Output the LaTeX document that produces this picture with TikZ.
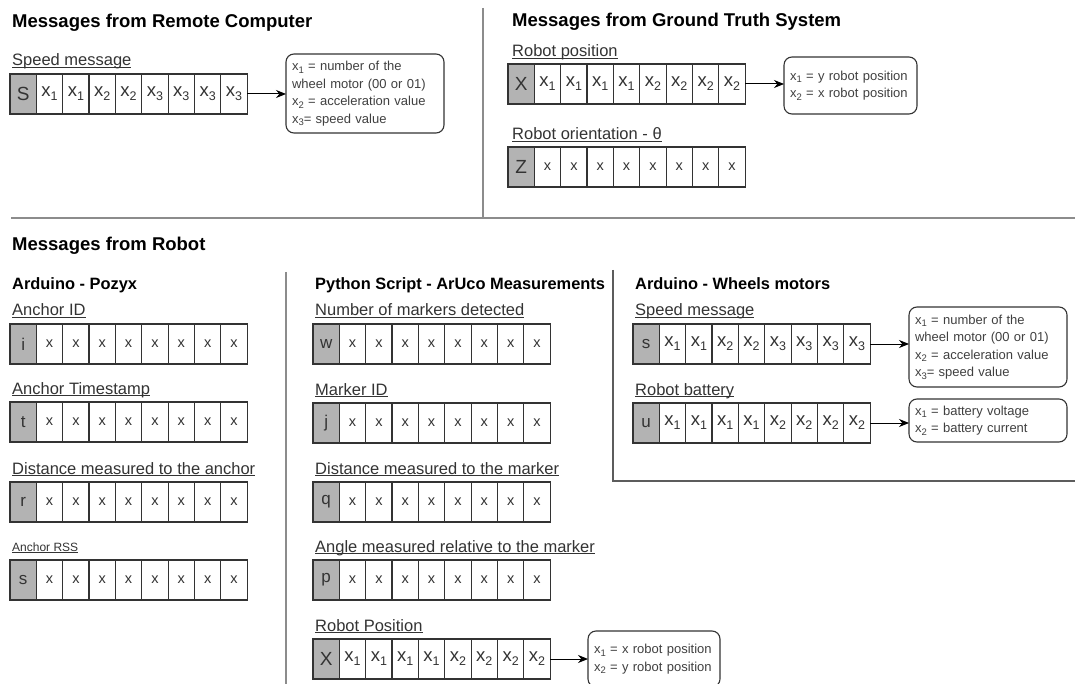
\documentclass[tikz,border=0pt]{standalone}
\usepackage{fontspec}
\setmainfont{Liberation Sans}
\usetikzlibrary{arrows.meta}

\definecolor{ink}{HTML}{333333}
\definecolor{headgray}{HTML}{B3B3B3}
\definecolor{rulegray}{HTML}{8C8C8C}
\definecolor{notetext}{HTML}{404040}

% x with a numeric subscript, for cells and for notes
\newcommand\sx[1]{{\fontsize{18.5}{18.5}\selectfont x\raisebox{-4pt}{\fontsize{12.5}{12.5}\selectfont #1}}}
\newcommand\nx[1]{x\raisebox{-2.8pt}{\fontsize{9.5}{9.5}\selectfont #1}}
% plain x payload byte
\newcommand\px{{\fontsize{14.5}{14.5}\selectfont x}}
% large capital header letter
\newcommand\hd[1]{{\fontsize{19}{19}\selectfont #1}}
% underline at a fixed depth below the baseline
\newcommand\ulabel[1]{{\setbox0\hbox{#1}\rlap{\rule[-2.3pt]{\wd0}{0.9pt}}\box0}}
% one unbreakable note line
\newcommand\nl[1]{\mbox{#1}}

% one message frame: header cell followed by eight payload cells
\newcommand\msgrow[4]{%
  \foreach \c [count=\i from 0] in {#4} {%
    \ifnum\i=0
      \node[headcell] (#1-\i) at ({#2+\i*26.35},#3) {\c};
    \else
      \node[cell] (#1-\i) at ({#2+\i*26.35},#3) {\c};
    \fi
  }%
}

\tikzset{
  cell/.style={draw=ink, line width=1.2pt, fill=white, minimum width=26.35pt,
    minimum height=40pt, inner sep=0pt, outer sep=0pt, anchor=north west,
    text=ink, font=\fontsize{17}{17}\selectfont},
  headcell/.style={cell, fill=headgray},
  note/.style={draw=ink, line width=1.1pt, rounded corners=8pt, fill=white,
    anchor=north west, inner xsep=6pt, inner ysep=0pt, outer sep=0pt, align=left,
    text=notetext, font=\fontsize{13}{17.5}\selectfont},
  arr/.style={draw=black, line width=1pt, -{Stealth[length=10pt,width=8pt]}},
  title/.style={anchor=base west, inner sep=0pt, font=\fontsize{18.5}{22}\selectfont\bfseries},
  subtitle/.style={anchor=base west, inner sep=0pt, font=\fontsize{16.4}{20}\selectfont\bfseries},
  lab/.style={anchor=base west, inner sep=0pt, text=ink, font=\fontsize{16.5}{20}\selectfont},
  sep/.style={draw=rulegray, line width=1.8pt},
  frame/.style={draw=ink!80, line width=1.1pt},
}

\begin{document}
\begin{tikzpicture}[x=1pt, y=-1pt]
\useasboundingbox (0,0) rectangle (1075,684);

% ---- separators ----
\draw[sep] (483,8) -- (483,218);
\draw[sep] (11,218) -- (1075,218);
\draw[sep] (286,272) -- (286,684);
\draw[frame] (613,270) -- (613,481) -- (1075,481);

% ---- remote computer ----
\node[title] (tRemote) at (12,27.5) {Messages from Remote Computer};
\node[lab] (lSpeedA) at (12,66) {\ulabel{Speed message}};
\msgrow{spa}{10}{74}{\hd{S},\sx{1},\sx{1},\sx{2},\sx{2},\sx{3},\sx{3},\sx{3},\sx{3}}
\node[note, minimum width=158pt, minimum height=79pt, text width=146pt] (nSpeedA) at (286,54)
  {\nl{\nx{1} = number of the}\\\nl{wheel motor (00 or 01)}\\\nl{\nx{2} = acceleration value}\\\nl{\nx{3}= speed value}};
\draw[arr] (spa-8.east) -- (spa-8.east -| nSpeedA.west);

% ---- ground truth system ----
\node[title] (tGround) at (512,27) {Messages from Ground Truth System};
\node[lab] (lPos) at (512,56.5) {\ulabel{Robot position}};
\msgrow{gpos}{508}{64}{\hd{X},\sx{1},\sx{1},\sx{1},\sx{1},\sx{2},\sx{2},\sx{2},\sx{2}}
\node[note, minimum width=133pt, minimum height=57pt, text width=121pt] (nPos) at (784,57)
  {\nl{\nx{1} = y robot position}\\\nl{\nx{2} = x robot position}};
\draw[arr] (gpos-8.east) -- (gpos-8.east -| nPos.west);
\node[lab] (lOri) at (512,139.5) {\ulabel{Robot orientation - θ}};
\msgrow{gori}{508}{147}{\hd{Z},\px,\px,\px,\px,\px,\px,\px,\px}

% ---- robot ----
\node[title] (tRobot) at (12,251) {Messages from Robot};

% Arduino - Pozyx
\node[subtitle] (sPozyx) at (12,290) {Arduino - Pozyx};
\node[lab] (lAid) at (12,316) {\ulabel{Anchor ID}};
\msgrow{aid}{10}{324}{i,\px,\px,\px,\px,\px,\px,\px,\px}
\node[lab] (lAts) at (12,394) {\ulabel{Anchor Timestamp}};
\msgrow{ats}{10}{402}{t,\px,\px,\px,\px,\px,\px,\px,\px}
\node[lab] (lAdist) at (12,474) {\ulabel{Distance measured to the anchor}};
\msgrow{adist}{10}{482}{r,\px,\px,\px,\px,\px,\px,\px,\px}
\node[lab, font=\fontsize{12}{14}\selectfont] (lRss) at (12,551) {\ulabel{Anchor RSS}};
\msgrow{arss}{10}{560}{s,\px,\px,\px,\px,\px,\px,\px,\px}

% Python script - ArUco
\node[subtitle] (sAruco) at (315,290) {Python Script - ArUco Measurements};
\node[lab] (lNum) at (315,316) {\ulabel{Number of markers detected}};
\msgrow{mnum}{313}{324}{w,\px,\px,\px,\px,\px,\px,\px,\px}
\node[lab] (lMid) at (315,395) {\ulabel{Marker ID}};
\msgrow{mid}{313}{403}{j,\px,\px,\px,\px,\px,\px,\px,\px}
\node[lab] (lMdist) at (315,474) {\ulabel{Distance measured to the marker}};
\msgrow{mdist}{313}{482}{q,\px,\px,\px,\px,\px,\px,\px,\px}
\node[lab] (lAng) at (315,552) {\ulabel{Angle measured relative to the marker}};
\msgrow{mang}{313}{560}{p,\px,\px,\px,\px,\px,\px,\px,\px}
\node[lab] (lRpos) at (315,631) {\ulabel{Robot Position}};
\msgrow{mpos}{313}{639}{\hd{X},\sx{1},\sx{1},\sx{1},\sx{1},\sx{2},\sx{2},\sx{2},\sx{2}}
\node[note, minimum width=132pt, minimum height=56pt, text width=120pt] (nMpos) at (588,631)
  {\nl{\nx{1} = x robot position}\\\nl{\nx{2} = y robot position}};
\draw[arr] (mpos-8.east) -- (mpos-8.east -| nMpos.west);

% Arduino - Wheels motors
\node[subtitle] (sWheels) at (635,290) {Arduino - Wheels motors};
\node[lab] (lSpeedB) at (635,316) {\ulabel{Speed message}};
\msgrow{spb}{633}{324}{s,\sx{1},\sx{1},\sx{2},\sx{2},\sx{3},\sx{3},\sx{3},\sx{3}}
\node[note, minimum width=158pt, minimum height=80pt, text width=146pt] (nSpeedB) at (909,307)
  {\nl{\nx{1} = number of the}\\\nl{wheel motor (00 or 01)}\\\nl{\nx{2} = acceleration value}\\\nl{\nx{3}= speed value}};
\draw[arr] (spb-8.east) -- (spb-8.east -| nSpeedB.west);
\node[lab] (lBat) at (635,395) {\ulabel{Robot battery}};
\msgrow{bat}{633}{403}{u,\sx{1},\sx{1},\sx{1},\sx{1},\sx{2},\sx{2},\sx{2},\sx{2}}
\node[note, minimum width=158pt, minimum height=43pt, text width=146pt] (nBat) at (909,399)
  {\nl{\nx{1} = battery voltage}\\\nl{\nx{2} = battery current}};
\draw[arr] (bat-8.east) -- (bat-8.east -| nBat.west);
\end{tikzpicture}
\end{document}
